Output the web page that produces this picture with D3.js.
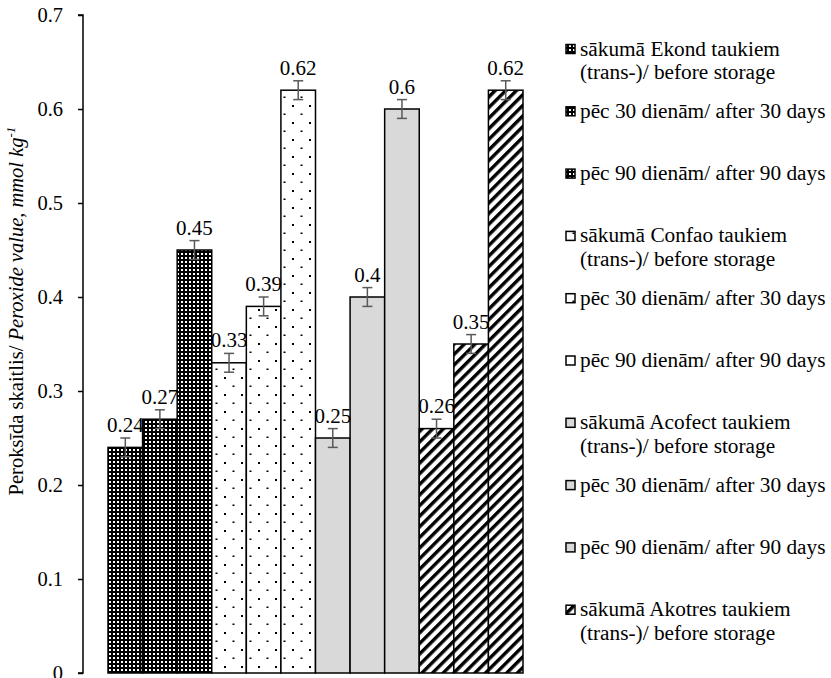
<!DOCTYPE html>
<html>
<head>
<meta charset="utf-8">
<script src="https://cdn.jsdelivr.net/npm/d3@7"></script>
<style>
  html, body { margin: 0; padding: 0; background: #fff; }
  svg text { font-family: "Liberation Serif", "Times New Roman", Tinos, serif; }
</style>
</head>
<body>
<svg id="chart" width="831" height="678"></svg>
<script>
// ---- data ----
const fats = ["Ekond", "Confao", "Acofect", "Akotres"];
const stages = ["before", "after30", "after90"];
const ekondValues   = [0.24, 0.27, 0.45];
const confaoValues  = [0.33, 0.39, 0.62];
const acofectValues = [0.25, 0.40, 0.60];
const akotresValues = [0.26, 0.35, 0.62];
const errorValues   = [0.01, 0.01, 0.01];
const yTicks = [0, 0.1, 0.2, 0.3, 0.4, 0.5, 0.6, 0.7];
const legendLabels = [
  ["sākumā Ekond taukiem", "(trans-)/ before storage"],
  ["pēc 30 dienām/ after 30 days"],
  ["pēc 90 dienām/ after 90 days"],
  ["sākumā Confao taukiem", "(trans-)/ before storage"],
  ["pēc 30 dienām/ after 30 days"],
  ["pēc 90 dienām/ after 90 days"],
  ["sākumā Acofect taukiem", "(trans-)/ before storage"],
  ["pēc 30 dienām/ after 30 days"],
  ["pēc 90 dienām/ after 90 days"],
  ["sākumā Akotres taukiem", "(trans-)/ before storage"],
  ["pēc 30 dienām/ after 30 days"],
  ["pēc 90 dienām/ after 90 days"]
];
const yTitlePlain = "Peroksīda skaitlis/ ";
const yTitleItalic = "Peroxide value, mmol kg";
const yTitleSup = "-1";

const valuesByFat = [ekondValues, confaoValues, acofectValues, akotresValues];
const bars = [];
fats.forEach((f, fi) => stages.forEach((s, si) => {
  bars.push({ id: f + "-" + s, fat: f, fi, si, value: valuesByFat[fi][si], err: errorValues[si] });
}));

const FONT = '"Liberation Serif", "Times New Roman", Tinos, serif';

// ---- layout ----
const svg = d3.select("#chart");
const plot = { left: 83, right: 548, top: 15, bottom: 673 };

const x = d3.scaleBand()
  .domain(bars.map(d => d.id))
  .range([plot.left, plot.right])
  .paddingInner(0)
  .paddingOuter(0.723);
const y = d3.scaleLinear().domain([0, 0.7]).range([plot.bottom, plot.top]);

// ---- patterns ----
const defs = svg.append("defs");
const pGrid = defs.append("pattern").attr("id", "pat-ekond")
  .attr("patternUnits", "userSpaceOnUse").attr("width", 4).attr("height", 4);
pGrid.append("rect").attr("width", 4).attr("height", 4).attr("fill", "#000");
pGrid.append("rect").attr("x", 1).attr("y", 1).attr("width", 2).attr("height", 2).attr("fill", "#fff");

const pDots = defs.append("pattern").attr("id", "pat-confao")
  .attr("patternUnits", "userSpaceOnUse").attr("width", 17).attr("height", 17);
pDots.append("rect").attr("width", 17).attr("height", 17).attr("fill", "#fff");
pDots.append("rect").attr("x", 3).attr("y", 3).attr("width", 2).attr("height", 2).attr("fill", "#000");
pDots.append("rect").attr("x", 11.5).attr("y", 11.5).attr("width", 2).attr("height", 1.5).attr("fill", "#000");

const pStripe = defs.append("pattern").attr("id", "pat-akotres")
  .attr("patternUnits", "userSpaceOnUse").attr("width", 7.5).attr("height", 7.5)
  .attr("patternTransform", "rotate(45)");
pStripe.append("rect").attr("width", 7.5).attr("height", 7.5).attr("fill", "#fff");
pStripe.append("rect").attr("width", 3.4).attr("height", 7.5).attr("fill", "#000");

const fills = { Ekond: "url(#pat-ekond)", Confao: "url(#pat-confao)", Acofect: "#d9d9d9", Akotres: "url(#pat-akotres)" };

// ---- bars ----
svg.append("g").selectAll("rect").data(bars).join("rect")
  .attr("x", d => x(d.id))
  .attr("y", d => y(d.value))
  .attr("width", x.bandwidth())
  .attr("height", d => y(0) - y(d.value))
  .attr("fill", d => fills[d.fat])
  .attr("stroke", "#000")
  .attr("stroke-width", 1.5);

// ---- error bars ----
const eg = svg.append("g").attr("stroke", "#595959").attr("stroke-width", 1.5);
bars.forEach(d => {
  const cx = x(d.id) + x.bandwidth() / 2;
  eg.append("line").attr("x1", cx).attr("x2", cx).attr("y1", y(d.value - d.err)).attr("y2", y(d.value + d.err));
  eg.append("line").attr("x1", cx - 5).attr("x2", cx + 5).attr("y1", y(d.value + d.err)).attr("y2", y(d.value + d.err));
  eg.append("line").attr("x1", cx - 5).attr("x2", cx + 5).attr("y1", y(d.value - d.err)).attr("y2", y(d.value - d.err));
});

// ---- data labels ----
svg.append("g").selectAll("text").data(bars).join("text")
  .attr("x", d => x(d.id) + x.bandwidth() / 2)
  .attr("y", d => y(d.value + d.err) - 6)
  .attr("text-anchor", "middle")
  .style("font-family", FONT)
  .attr("font-size", 21)
  .attr("fill", "#000")
  .text(d => String(d.value));

// ---- y axis ----
const yAxis = d3.axisLeft(y).tickValues(yTicks).tickSize(5).tickPadding(15)
  .tickFormat(d => d === 0 ? "0" : d.toFixed(1));
const ag = svg.append("g").attr("transform", `translate(${plot.left},0)`).call(yAxis);
ag.attr("font-family", null);
ag.select(".domain").attr("stroke", "#000").attr("stroke-width", 1.5).attr("d", `M-5,${plot.top}H0V${plot.bottom}H-5`);
ag.selectAll(".tick line").attr("stroke", "#000").attr("stroke-width", 1.5);
ag.selectAll(".tick text").style("font-family", FONT).attr("font-size", 20.5).attr("fill", "#000");

// ---- y title ----
const yt = svg.append("text")
  .attr("transform", `translate(23,311) rotate(-90)`)
  .attr("text-anchor", "middle")
  .style("font-family", FONT)
  .attr("font-size", 20.5)
  .attr("fill", "#000");
yt.append("tspan").text(yTitlePlain);
yt.append("tspan").attr("font-style", "italic").text(yTitleItalic);
yt.append("tspan").attr("font-style", "italic").attr("font-size", 13).attr("dy", -8).text(yTitleSup);

// ---- legend ----
const legendFill = i => fills[fats[Math.floor(i / 3)]];
const lg = svg.append("g");
legendLabels.forEach((lines, i) => {
  const cy = 49 + i * 62.3;
  if (cy > 660) return;
  lg.append("rect").attr("x", 566).attr("y", cy - 4.5).attr("width", 9).attr("height", 9)
    .attr("fill", legendFill(i)).attr("stroke", "#000").attr("stroke-width", 1.5);
  lines.forEach((t, li) => {
    lg.append("text").attr("x", 580).attr("y", cy + 6.5 + li * 23.5)
      .style("font-family", FONT)
      .attr("font-size", 21.3).attr("fill", "#000").text(t);
  });
});
</script>
</body>
</html>
